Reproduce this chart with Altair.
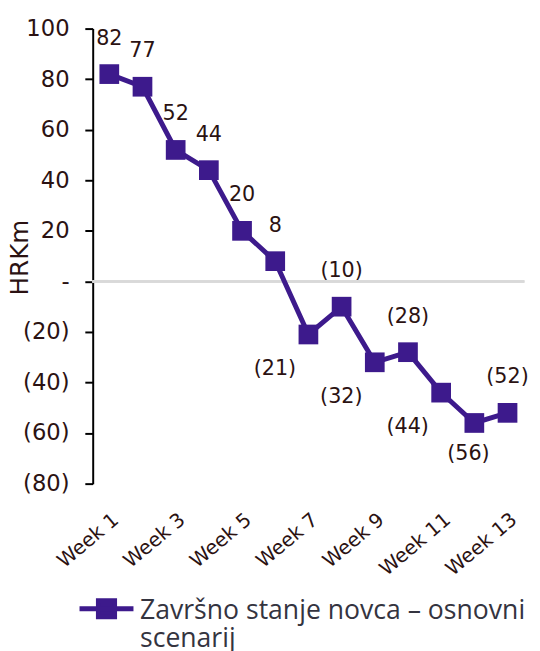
import altair as alt
import pandas as pd

weeks = [f"Week {i}" for i in range(1, 14)]
values = [82, 77, 52, 44, 20, 8, -21, -10, -32, -28, -44, -56, -52]
label_side = ["above", "above", "above", "above", "above", "above",
              "belowleft", "above", "belowleft", "above", "belowleft", "below", "above"]
series_name = "Završno stanje novca – osnovni scenarij"
y_ticks = [-80, -60, -40, -20, 0, 20, 40, 60, 80, 100]
x_label_weeks = [f"Week {i}" for i in range(1, 14, 2)]

df = pd.DataFrame({"week": weeks, "value": values, "side": label_side, "series": series_name})

PURPLE = "#3d1a8c"
DARK = "#2b1212"

x = alt.X("week:N", sort=weeks, scale=alt.Scale(paddingInner=0, paddingOuter=0),
          axis=alt.Axis(values=x_label_weeks, title=None, domain=False, ticks=False,
                        labelAngle=-40, labelAlign="right", labelBaseline="top",
                        labelPadding=26, labelFont="DejaVu Sans", labelFontSize=20,
                        labelColor=DARK, grid=False))
y = alt.Y("value:Q", scale=alt.Scale(domain=[-80, 100], nice=False),
          axis=alt.Axis(values=y_ticks, title="HRKm", grid=False,
                        labelExpr="datum.value == 0 ? '-' : (datum.value < 0 ? '(' + format(-datum.value, 'd') + ')' : format(datum.value, 'd'))",
                        labelFont="DejaVu Sans", labelFontSize=23, labelColor=DARK,
                        labelPadding=16, tickSize=8, tickColor="black", tickWidth=2,
                        domainColor="black", domainWidth=2,
                        titleFont="DejaVu Sans", titleFontSize=25, titleFontWeight="normal",
                        titleColor=DARK, titleAngle=270, titleX=-74, titleY=232,
                        titleAlign="center", titleBaseline="middle"))

base = alt.Chart(df)

legend_symbol = "M-1,0.4H1M-0.3,0.1H0.3V0.7H-0.3Z"

zero = base.mark_rule(color="#d9d9d9", strokeWidth=2).encode(
    y=alt.Y(datum=0), x=alt.value(0), x2=alt.value(438))

line = base.mark_line(color=PURPLE, strokeWidth=5, point=alt.OverlayMarkDef(
    shape="square", size=400, filled=True, color=PURPLE, opacity=1)).encode(
    x=x, y=y,
    color=alt.Color("series:N", scale=alt.Scale(range=[PURPLE]),
                    legend=alt.Legend(title=None, orient="none", legendX=-16, legendY=548,
                                      symbolType=legend_symbol, symbolSize=3000,
                                      symbolStrokeWidth=5, symbolFillColor=PURPLE,
                                      symbolStrokeColor=PURPLE,
                                      labelExpr="['Završno stanje novca – osnovni', 'scenarij']",
                                      labelFont="Open Sans", labelFontSize=27,
                                      labelColor="#34343f", labelLimit=500, labelOffset=4,
                                      labelBaseline="top")))

label_expr = "datum.value < 0 ? '(' + format(-datum.value, 'd') + ')' : format(datum.value, 'd')"

def labels(side, dx, dy):
    return base.transform_filter(alt.datum.side == side).transform_calculate(
        lbl=label_expr).mark_text(font="DejaVu Sans", fontSize=21, color=DARK,
                                  dx=dx, dy=dy, baseline="middle", align="center").encode(
        x=alt.X("week:N", sort=weeks), y="value:Q", text="lbl:N")

chart = alt.layer(
    zero, line,
    labels("above", 0, -36),
    labels("belowleft", -34, 35),
    labels("below", -6, 32),
).properties(width=438, height=462,
             autosize=alt.AutoSizeParams(type="none"),
             padding={"left": 86, "top": 16, "right": 8, "bottom": 165}
).configure_view(stroke=None)

chart.save("out.html", embed_options={"renderer": "svg", "actions": False})
